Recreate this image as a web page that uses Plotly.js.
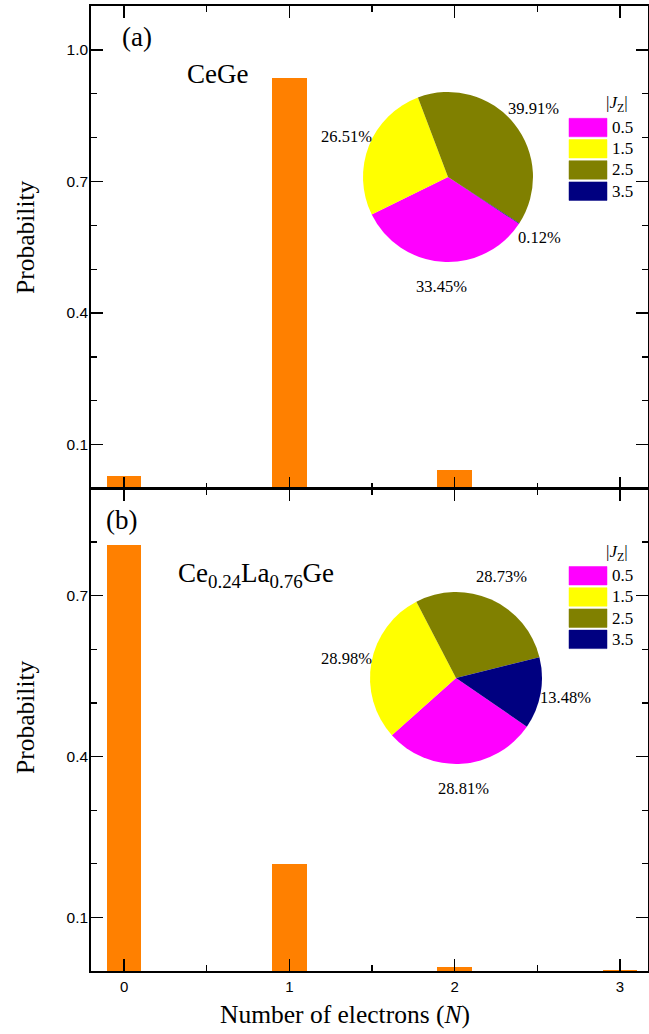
<!DOCTYPE html>
<html>
<head>
<meta charset="utf-8">
<script src="https://cdn.plot.ly/plotly-3.0.1.min.js"></script>
<style>html,body{margin:0;padding:0;background:#fff;}#chart{width:649px;height:1034px;}</style>
</head>
<body>
<div id="chart"></div>
<script>
// ---- data ----
const categories = [0, 1, 2, 3];
const probA = [0.028, 0.937, 0.043, 0.0];   // CeGe
const probB = [0.795, 0.200, 0.008, 0.001]; // Ce0.24La0.76Ge
const jzLabels = ['0.5', '1.5', '2.5', '3.5'];
const pieA = [33.45, 26.51, 39.91, 0.12];
const pieB = [28.81, 28.98, 28.73, 13.48];
const sliceColors = ['#FF00FF', '#FFFF00', '#808000', '#000080'];
const yTicksA = [0.1, 0.4, 0.7, 1.0];
const yTicksB = [0.1, 0.4, 0.7];

// ---- geometry helpers (pixel -> paper) ----
const W = 649, H = 1034;
const M = {l: 91, r: 1, t: 6, b: 63};
const PW = W - M.l - M.r, PH = H - M.t - M.b;
const px = x => (x - M.l) / PW;
const py = y => (H - M.b - y) / PH;

const serif = 'Liberation Serif, Times New Roman, serif';
const sans = 'Liberation Sans, Arial, sans-serif';
const barColor = '#FF8000';

function axisX(anchor, labels) {
  return {
    anchor: anchor, domain: [0, 1], range: [-0.2, 3.17],
    tick0: 0, dtick: 1, ticks: 'inside', ticklen: 12, tickwidth: 1.3, tickcolor: '#000',
    minor: {tick0: 0, dtick: 0.5, ticks: 'inside', ticklen: 6, tickwidth: 1.3, tickcolor: '#000'},
    showticklabels: labels, ticklabelstandoff: 1,
    tickfont: {family: sans, size: 15, color: '#000'},
    showline: true, linecolor: '#000', linewidth: 1.8, mirror: 'ticks',
    showgrid: false, zeroline: false, fixedrange: true
  };
}
function axisY(domain, range, tickvals) {
  return {
    domain: domain, range: range, tickvals: tickvals, ticktext: tickvals.map(v => v.toFixed(1)),
    ticks: 'inside', ticklen: 12, tickwidth: 1.3, tickcolor: '#000',
    minor: {tick0: 0, dtick: 0.1, ticks: 'inside', ticklen: 6, tickwidth: 1.3, tickcolor: '#000'},
    ticklabelstandoff: -2,
    tickfont: {family: sans, size: 15.5, color: '#000'},
    showline: true, linecolor: '#000', linewidth: 1.8, mirror: 'ticks',
    showgrid: false, zeroline: false, fixedrange: true
  };
}

// pie geometry (pixels): centre and radius
const pieGeomA = {cx: 448, cy: 177, r: 85, rot: 123.4};
const pieGeomB = {cx: 456, cy: 678, r: 86, rot: 124.5};

function pieTrace(vals, g) {
  return {type: 'pie', values: vals, labels: jzLabels, sort: false, direction: 'clockwise', rotation: g.rot,
    marker: {colors: sliceColors, line: {width: 0}}, textinfo: 'none', hoverinfo: 'label+percent',
    domain: {x: [px(g.cx - g.r), px(g.cx + g.r)], y: [py(g.cy + g.r), py(g.cy - g.r)]}, showlegend: false};
}

const traces = [
  {type: 'bar', x: categories, y: probA, width: 0.21, marker: {color: barColor, line: {width: 0}},
   xaxis: 'x', yaxis: 'y', showlegend: false, hoverinfo: 'x+y'},
  {type: 'bar', x: categories, y: probB, width: 0.21, marker: {color: barColor, line: {width: 0}},
   xaxis: 'x2', yaxis: 'y2', showlegend: false, hoverinfo: 'x+y'},
  pieTrace(pieA, pieGeomA),
  pieTrace(pieB, pieGeomB)
];

const shapes = [], annotations = [];
const pctSize = 16.5;

// percentage labels placed outside each slice, centred on the slice's mid angle
function pieLabels(vals, g) {
  const tot = vals.reduce((a, b) => a + b, 0);
  let start = g.rot; // compass degrees, clockwise from 12 o'clock
  vals.forEach(v => {
    const span = v / tot * 360;
    const midCompass = start + span / 2;
    start += span;
    const a = (90 - midCompass) * Math.PI / 180; // math angle
    const d = g.r * 1.29;
    const x = g.cx + d * Math.cos(a);
    const y = g.cy - d * Math.sin(a);
    annotations.push({xref: 'paper', yref: 'paper', x: px(x), y: py(y), xanchor: 'center', yanchor: 'middle',
      text: v.toFixed(2) + '%', showarrow: false, font: {family: serif, size: pctSize, color: '#000'}});
  });
}
pieLabels(pieA, pieGeomA);
pieLabels(pieB, pieGeomB);

// ---- manual |Jz| legends ----
function addLegend(titleY, rowTop) {
  annotations.push({xref: 'paper', yref: 'paper', x: px(617), y: py(titleY), xanchor: 'center', yanchor: 'middle',
    text: '|<i>J</i><sub>Z</sub>|', showarrow: false, font: {family: serif, size: 17, color: '#000'}});
  jzLabels.forEach((lab, i) => {
    const y0 = rowTop + i * 21.2, y1 = y0 + 18.5;
    shapes.push({type: 'rect', xref: 'paper', yref: 'paper', x0: px(569), x1: px(607), y0: py(y1), y1: py(y0),
      fillcolor: sliceColors[i], line: {color: sliceColors[i], width: 0.5}});
    annotations.push({xref: 'paper', yref: 'paper', x: px(610), y: py((y0 + y1) / 2), xanchor: 'left', yanchor: 'middle',
      text: lab, showarrow: false, font: {family: serif, size: 17, color: '#000'}});
  });
}
addLegend(104, 118.3);
addLegend(553, 566.5);

function txt(t, x, y, size, angle) {
  annotations.push({xref: 'paper', yref: 'paper', x: px(x), y: py(y), xanchor: 'center', yanchor: 'middle',
    text: t, showarrow: false, textangle: angle || 0, font: {family: serif, size: size, color: '#000'}});
}
txt('(a)', 137, 37, 27);
txt('CeGe', 217, 74, 27);
txt('(b)', 121, 520, 27);
txt('Ce<sub>0.24</sub>La<sub>0.76</sub>Ge', 256, 575, 27);
txt('Probability', 25, 237, 25.5, -90);
txt('Probability', 25, 717, 25.5, -90);
txt('Number of electrons (<i>N</i>)', 345, 1015, 25.5);

const layout = {
  width: W, height: H, margin: M, paper_bgcolor: '#fff', plot_bgcolor: '#fff',
  showlegend: false, bargap: 0,
  xaxis: axisX('y', false),
  yaxis: axisY([0.5, 1], [0, 1.1], yTicksA),
  xaxis2: axisX('y2', true),
  yaxis2: axisY([0, 0.5], [0, 0.9], yTicksB),
  shapes: shapes, annotations: annotations
};

Plotly.newPlot('chart', traces, layout, {displayModeBar: false, staticPlot: true});
</script>
</body>
</html>
